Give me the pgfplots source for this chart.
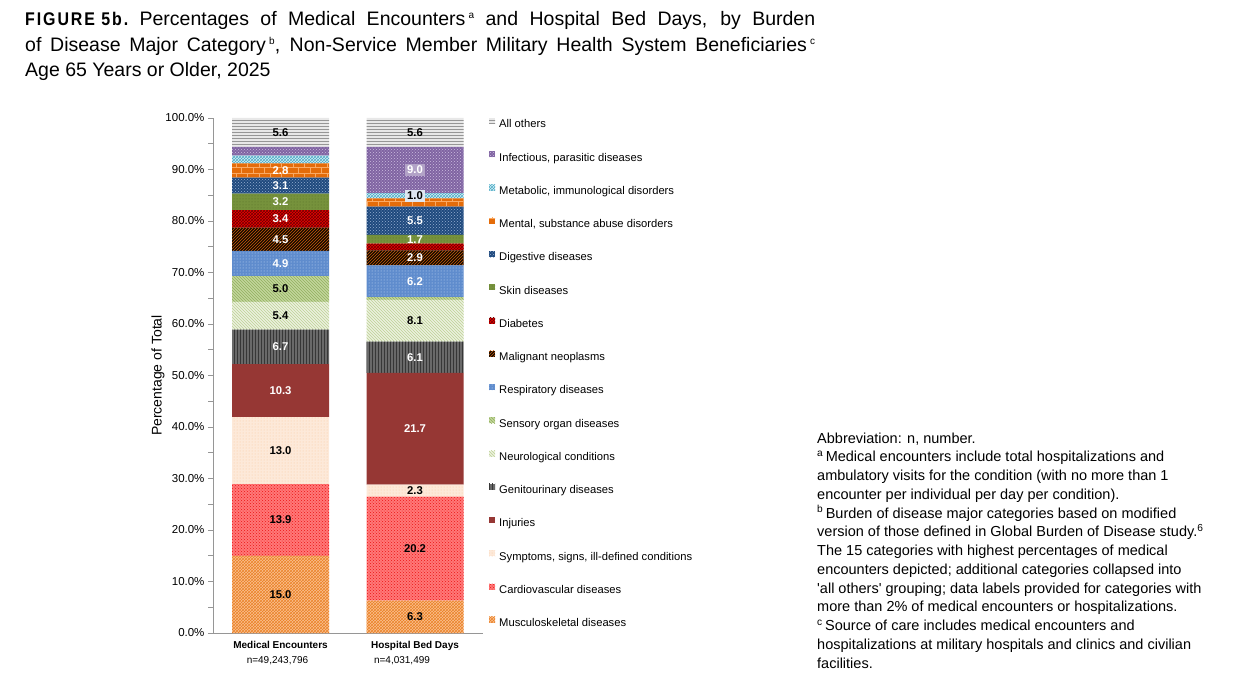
\documentclass[border=0pt]{standalone}
\usepackage{pgfplots}
\pgfplotsset{compat=1.18}
\usepackage{fontspec}
\setmainfont{Liberation Sans}
\usetikzlibrary{patterns}
\usepackage{graphicx}
\definecolor{axgray}{RGB}{150,150,150}
\definecolor{c1}{RGB}{250,192,144}\definecolor{p1}{RGB}{235,130,40}
\definecolor{c2}{RGB}{255,120,120}\definecolor{p2}{RGB}{235,20,20}
\definecolor{c3}{RGB}{253,233,217}\definecolor{p3}{RGB}{250,200,160}
\definecolor{c4}{RGB}{150,55,52}
\definecolor{c5}{RGB}{105,105,105}\definecolor{p5}{RGB}{55,55,55}
\definecolor{c6}{RGB}{235,241,222}\definecolor{p6}{RGB}{190,210,150}
\definecolor{c7}{RGB}{195,214,155}\definecolor{p7}{RGB}{145,175,95}
\definecolor{c8}{RGB}{95,140,205}\definecolor{p8}{RGB}{200,220,245}
\definecolor{c9}{RGB}{20,10,0}\definecolor{p9}{RGB}{200,90,10}
\definecolor{c10}{RGB}{235,0,0}\definecolor{p10}{RGB}{110,0,0}
\definecolor{c11}{RGB}{118,146,60}\definecolor{p11}{RGB}{85,110,40}
\definecolor{c12}{RGB}{31,73,125}\definecolor{p12}{RGB}{150,175,210}
\definecolor{c13}{RGB}{228,108,10}\definecolor{p13}{RGB}{250,170,100}
\definecolor{c14}{RGB}{215,238,246}\definecolor{p14}{RGB}{75,172,198}
\definecolor{c15}{RGB}{128,100,162}\definecolor{p15}{RGB}{205,190,225}
\definecolor{c16}{RGB}{232,232,232}\definecolor{p16}{RGB}{150,150,150}
\definecolor{boxpurple}{RGB}{178,162,199}
\definecolor{boxlight}{RGB}{222,230,240}
\protected\def\W#1;{\textcolor{white}{#1}}
\protected\def\E{}
\protected\def\BP#1;{{\setlength{\fboxsep}{2pt}\colorbox{boxpurple}{\textcolor{white}{#1}}}}
\protected\def\BL#1;{{\setlength{\fboxsep}{2pt}\colorbox{boxlight}{#1}}}
\newcommand{\tsup}[1]{\raisebox{7pt}{\fontsize{10}{10}\selectfont #1}}
\begin{document}
\begin{tikzpicture}
\path[use as bounding box] (0,0) rectangle (1250pt,694pt);
% title
\node[anchor=base west, inner sep=0pt, font=\fontsize{19.5}{25}\selectfont] at (25pt,668pt)
 {\makebox[790pt][s]{\resizebox{103pt}{13.3pt}{\bfseries\addfontfeatures{LetterSpace=12}FIGURE 5b.} Percentages of Medical Encounters\,\tsup{a} and Hospital Bed Days, by Burden}};
\node[anchor=base west, inner sep=0pt, font=\fontsize{19.5}{25}\selectfont] at (25pt,642.5pt)
 {\makebox[790pt][s]{of Disease Major Category\,\tsup{b}, Non-Service Member Military Health System Beneficiaries\,\tsup{c}}};
\node[anchor=base west, inner sep=0pt, font=\fontsize{19.5}{25}\selectfont] at (25pt,617pt)
 {Age 65 Years or Older, 2025};
% footnotes
\node[anchor=north west, inner sep=0pt, align=left, font=\fontsize{14.5}{18.75}\selectfont] at (817pt,261.5pt)
 {Abbreviation: n, number.\\
 \textsuperscript{a}\,Medical encounters include total hospitalizations and\\
 ambulatory visits for the condition (with no more than 1\\
 encounter per individual per day per condition).\\
 \textsuperscript{b}\,Burden of disease major categories based on modified\\
 version of those defined in Global Burden of Disease study.\textsuperscript{6}\\
 The 15 categories with highest percentages of medical\\
 encounters depicted; additional categories collapsed into\\
 \textquotesingle all others\textquotesingle\ grouping; data labels provided for categories with\\
 more than 2\% of medical encounters or hospitalizations.\\
 \textsuperscript{c}\,Source of care includes medical encounters and\\
 hospitalizations at military hospitals and clinics and civilian\\
 facilities.};
\begin{axis}[
  at={(213pt,61pt)}, anchor=south west, scale only axis,
  width=270pt, height=515pt,
  xmin=0, xmax=270, ymin=0, ymax=100,
  ybar stacked, bar width=97pt,
  axis x line*=bottom, axis y line*=left,
  axis line style={-, draw=axgray, line width=1pt},
  xtick={67.5,202},
  xticklabels={{\textbf{Medical Encounters}\\\hspace*{-6pt}n=49,243,796},{\textbf{Hospital Bed Days}\\\hspace*{-26pt}n=4,031,499}},
  x tick style={draw=none},
  xticklabel style={font=\fontsize{10}{14.5}\selectfont, align=center, anchor=north},
  ytick={0,10,...,100}, minor ytick={5,15,...,95},
  yticklabels={0.0\%,10.0\%,20.0\%,30.0\%,40.0\%,50.0\%,60.0\%,70.0\%,80.0\%,90.0\%,100.0\%},
  tick align=outside, major tick length=5pt, minor tick length=5pt,
  y tick style={draw=axgray, line width=0.8pt},
  yticklabel style={font=\fontsize{11.5}{12}\selectfont},
  ylabel={Percentage of Total},
  ylabel style={at={(axis description cs:-0.204,0.5)}, anchor=center, font=\fontsize{14}{16}\selectfont},
  point meta=explicit symbolic, nodes near coords,
  nodes near coords style={font=\bfseries\fontsize{11.3}{11.3}\selectfont, anchor=center, inner sep=0pt},
  reverse legend, legend cell align=left,
  legend style={at={(1.0222,1.0)}, anchor=north west, draw=none, fill=none, inner sep=0pt,
    row sep=21.0pt, font=\fontsize{11.2}{12}\selectfont,
    nodes={inner sep=0pt, text height=8pt, text depth=2.5pt},
    /tikz/every odd column/.append style={column sep=4pt}},
  legend image code/.code={\path[#1, draw=none] (0pt,1pt) rectangle (6pt,7pt);},
]
\addplot[fill=c1, draw=none, postaction={pattern color=p1, pattern=crosshatch}] table[meta=lab] {
x y lab
67.5 15.0 15.0
202 6.3 6.3
};
\addlegendentry{Musculoskeletal diseases}
\addplot[fill=c2, draw=none, postaction={pattern color=p2, pattern=crosshatch dots}] table[meta=lab] {
x y lab
67.5 13.9 13.9
202 20.2 20.2
};
\addlegendentry{Cardiovascular diseases}
\addplot[fill=c3, draw=none, postaction={pattern color=p3, pattern=dots}] table[meta=lab] {
x y lab
67.5 13.0 13.0
202 2.3 2.3
};
\addlegendentry{Symptoms, signs, ill-defined conditions}
\addplot[fill=c4, draw=none] table[meta=lab] {
x y lab
67.5 10.3 \W10.3;
202 21.7 \W21.7;
};
\addlegendentry{Injuries}
\addplot[fill=c5, draw=none, postaction={pattern color=p5, pattern=vertical lines}] table[meta=lab] {
x y lab
67.5 6.7 \W6.7;
202 6.1 \W6.1;
};
\addlegendentry{Genitourinary diseases}
\addplot[fill=c6, draw=none, postaction={pattern color=p6, pattern=north west lines}] table[meta=lab] {
x y lab
67.5 5.4 5.4
202 8.1 8.1
};
\addlegendentry{Neurological conditions}
\addplot[fill=c7, draw=none, postaction={pattern color=p7, pattern=north west lines}] table[meta=lab] {
x y lab
67.5 5.0 5.0
202 0.5 \E
};
\addlegendentry{Sensory organ diseases}
\addplot[fill=c8, draw=none, postaction={pattern color=p8, pattern=dots}] table[meta=lab] {
x y lab
67.5 4.9 \W4.9;
202 6.2 \W6.2;
};
\addlegendentry{Respiratory diseases}
\addplot[fill=c9, draw=none, postaction={pattern color=p9, pattern=north east lines}] table[meta=lab] {
x y lab
67.5 4.5 \W4.5;
202 2.9 \W2.9;
};
\addlegendentry{Malignant neoplasms}
\addplot[fill=c10, draw=none, postaction={pattern color=p10, pattern=crosshatch}] table[meta=lab] {
x y lab
67.5 3.4 \W3.4;
202 1.3 \E
};
\addlegendentry{Diabetes}
\addplot[fill=c11, draw=none, postaction={pattern color=p11, pattern=dots}] table[meta=lab] {
x y lab
67.5 3.2 \W3.2;
202 1.7 \W1.7;
};
\addlegendentry{Skin diseases}
\addplot[fill=c12, draw=none, postaction={pattern color=p12, pattern=crosshatch dots}] table[meta=lab] {
x y lab
67.5 3.1 \W3.1;
202 5.5 \W5.5;
};
\addlegendentry{Digestive diseases}
\addplot[fill=c13, draw=none, postaction={pattern color=p13, pattern=bricks}] table[meta=lab] {
x y lab
67.5 2.8 \W2.8;
202 1.6 \E
};
\addlegendentry{Mental, substance abuse disorders}
\addplot[fill=c14, draw=none, postaction={pattern color=p14, pattern=crosshatch}] table[meta=lab] {
x y lab
67.5 1.5 \E
202 1.0 \BL1.0;
};
\addlegendentry{Metabolic, immunological disorders}
\addplot[fill=c15, draw=none, postaction={pattern color=p15, pattern=crosshatch dots}] table[meta=lab] {
x y lab
67.5 1.7 \E
202 9.0 \BP9.0;
};
\addlegendentry{Infectious, parasitic diseases}
\addplot[fill=c16, draw=none, postaction={pattern color=p16, pattern=horizontal lines}] table[meta=lab] {
x y lab
67.5 5.6 5.6
202 5.6 5.6
};
\addlegendentry{All others}
\end{axis}
\end{tikzpicture}
\end{document}
